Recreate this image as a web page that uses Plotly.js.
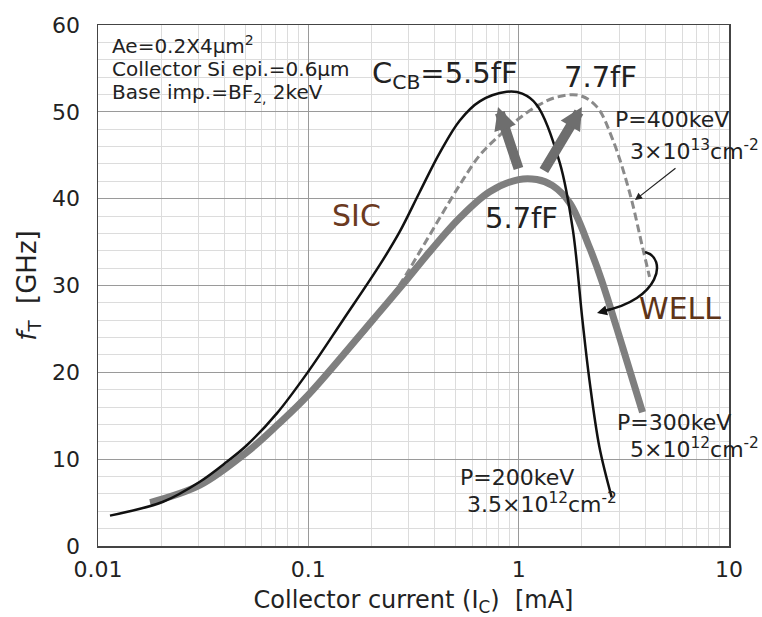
<!DOCTYPE html>
<html>
<head>
<meta charset="utf-8">
<script src="https://cdn.plot.ly/plotly-3.0.1.min.js"></script>
<style>html,body{margin:0;padding:0;background:#fff;}#chart{width:762px;height:617px;}</style>
</head>
<body>
<div id="chart"></div>
<script>
// SIC, P=200keV, 3.5e12 cm^-2 (black)
const sicX = [0.0114, 0.0204, 0.0305, 0.041, 0.051, 0.071, 0.1, 0.146, 0.219, 0.272, 0.339, 0.422, 0.525, 0.653, 0.877, 1.04, 1.22, 1.57, 1.81, 2.01, 2.17, 2.42, 2.77];
const sicY = [3.5, 5.1, 7.4, 9.7, 11.6, 15.3, 20.1, 26.0, 32.4, 36.2, 40.8, 45.3, 49.0, 51.2, 52.3, 52.1, 50.8, 44.1, 36.4, 26.0, 19.1, 11.4, 5.6];
// WELL, P=300keV, 5e12 cm^-2 (thick gray)
const well300X = [0.0177, 0.0305, 0.051, 0.071, 0.1, 0.202, 0.281, 0.378, 0.525, 0.728, 1.0, 1.22, 1.45, 1.75, 2.17, 2.48, 3.12, 3.88];
const well300Y = [5.0, 7.0, 10.8, 13.9, 17.4, 26.0, 30.1, 33.9, 37.8, 40.8, 42.2, 42.2, 41.5, 39.5, 34.4, 30.6, 22.9, 15.4];
// WELL, P=400keV, 3e13 cm^-2 (dashed gray)
const well400X = [0.0177, 0.0305, 0.051, 0.1, 0.2, 0.272, 0.339, 0.422, 0.525, 0.653, 0.812, 1.0, 1.25, 1.52, 1.94, 2.35, 2.8, 3.37, 3.88, 4.19];
const well400Y = [5.0, 7.1, 10.9, 17.6, 25.6, 30.1, 33.9, 37.8, 41.6, 45.0, 47.3, 49.2, 50.8, 51.7, 51.9, 50.6, 46.8, 40.7, 34.4, 31.0];

const xTickVals = [0.01, 0.1, 1, 10];
const xTickText = ["0.01", "0.1", "1", "10"];

const FONT = "DejaVu Sans";

const traces = [
  {x: well400X, y: well400Y, mode: "lines", line: {color: "#8a8a8a", width: 3, dash: "8px,4px", shape: "spline", smoothing: 1}, hoverinfo: "skip"},
  {x: well300X, y: well300Y, mode: "lines", line: {color: "#7f7f7f", width: 7, shape: "spline", smoothing: 1}, hoverinfo: "skip"},
  {x: sicX, y: sicY, mode: "lines", line: {color: "#111111", width: 2.5, shape: "spline", smoothing: 1}, hoverinfo: "skip"}
];

function txt(text, x, y, size, opts) {
  return Object.assign({text: text, x: x, y: y, xref: "paper", yref: "paper", showarrow: false,
    xanchor: "center", yanchor: "middle", font: {family: FONT, size: size, color: "#222"}}, opts || {});
}

const annotations = [
  txt("Ae=0.2X4μm<sup>2</sup>", 0.019, 0.9616, 20, {xanchor: "left"}),
  txt("Collector Si epi.=0.6μm", 0.019, 0.9155, 20, {xanchor: "left"}),
  txt("Base imp.=BF<sub>2,</sub> 2keV", 0.019, 0.8695, 20, {xanchor: "left"}),
  txt("C<sub>CB</sub>=5.5fF", 0.6688, 0.904, 29, {xanchor: "right"}),
  txt("7.7fF", 0.7956, 0.9002, 29),
  txt("5.7fF", 0.6704, 0.6296, 29),
  txt("SIC", 0.4089, 0.6334, 30, {font: {family: FONT, size: 30, color: "#6b3a1f"}}),
  txt("WELL", 0.9223, 0.4568, 30, {font: {family: FONT, size: 30, color: "#5e3418"}}),
  txt("P=400keV", 0.8162, 0.8177, 22, {xanchor: "left"}),
  txt("3×10<sup>13</sup>cm<sup>-2</sup>", 0.8399, 0.7601, 22, {xanchor: "left"}),
  txt("P=300keV", 0.8193, 0.2361, 22, {xanchor: "left"}),
  txt("5×10<sup>12</sup>cm<sup>-2</sup>", 0.8399, 0.1881, 22, {xanchor: "left"}),
  txt("P=200keV", 0.5705, 0.1324, 22, {xanchor: "left"}),
  txt("3.5×10<sup>12</sup>cm<sup>-2</sup>", 0.5816, 0.0825, 22, {xanchor: "left"}),
  // big gray arrows
  {text: "", x: 0.6339, y: 0.8426, xref: "paper", yref: "paper", showarrow: true, ax: 21, ay: 63,
   arrowcolor: "#6e6e6e", arrowwidth: 10, arrowhead: 2, arrowsize: 0.45, standoff: 0},
  {text: "", x: 0.7670, y: 0.8426, xref: "paper", yref: "paper", showarrow: true, ax: -39, ay: 65,
   arrowcolor: "#6e6e6e", arrowwidth: 10, arrowhead: 2, arrowsize: 0.45, standoff: 0},
  // thin pointer arrow
  {text: "", x: 0.851, y: 0.6641, xref: "paper", yref: "paper", showarrow: true, ax: 42, ay: -33,
   arrowcolor: "#222", arrowwidth: 1.2, arrowhead: 2, arrowsize: 1.2, standoff: 0},
  // head of curved arrow
  {text: "", x: 0.7908, y: 0.4472, xref: "paper", yref: "paper", showarrow: true, ax: 15, ay: -4,
   arrowcolor: "#111", arrowwidth: 2.5, arrowhead: 2, arrowsize: 0.8, standoff: 0}
];

const shapes = [
  {type: "path", xref: "paper", yref: "paper",
   path: "M 0.8669,0.5643 C 0.9033,0.5528 0.8906,0.4722 0.8003,0.4511",
   line: {color: "#111", width: 2.5}}
];

const layout = {
  width: 762, height: 617,
  margin: {l: 98, r: 33, t: 25, b: 71},
  paper_bgcolor: "#fff", plot_bgcolor: "#fff",
  showlegend: false,
  font: {family: FONT, color: "#222"},
  xaxis: {
    type: "log", range: [-2, 1], tickvals: xTickVals, ticktext: xTickText,
    showgrid: true, gridcolor: "#9a9a9a", gridwidth: 1,
    minor: {showgrid: true, gridcolor: "#dcdcdc", gridwidth: 1, dtick: "D1", ticks: ""},
    showline: true, linecolor: "#444", linewidth: 1.5, mirror: true,
    ticks: "", ticklabelstandoff: 3, zeroline: false,
    tickfont: {family: FONT, size: 22, color: "#222"},
    title: {text: "Collector current (I<sub>C</sub>)  [mA]", font: {family: FONT, size: 24, color: "#222"}, standoff: 12}
  },
  yaxis: {
    range: [0, 60], dtick: 10,
    showgrid: true, gridcolor: "#9a9a9a", gridwidth: 1,
    minor: {showgrid: true, gridcolor: "#dcdcdc", gridwidth: 1, dtick: 2, ticks: ""},
    showline: true, linecolor: "#444", linewidth: 1.5, mirror: true,
    ticks: "", ticklabelstandoff: 12, zeroline: false,
    tickfont: {family: FONT, size: 22, color: "#222"},
    title: {text: "<i>f</i><sub>T</sub>  [GHz]", font: {family: FONT, size: 26, color: "#222"}, standoff: 8}
  },
  annotations: annotations,
  shapes: shapes
};

Plotly.newPlot("chart", traces, layout, {staticPlot: true, displayModeBar: false});
</script>
</body>
</html>
